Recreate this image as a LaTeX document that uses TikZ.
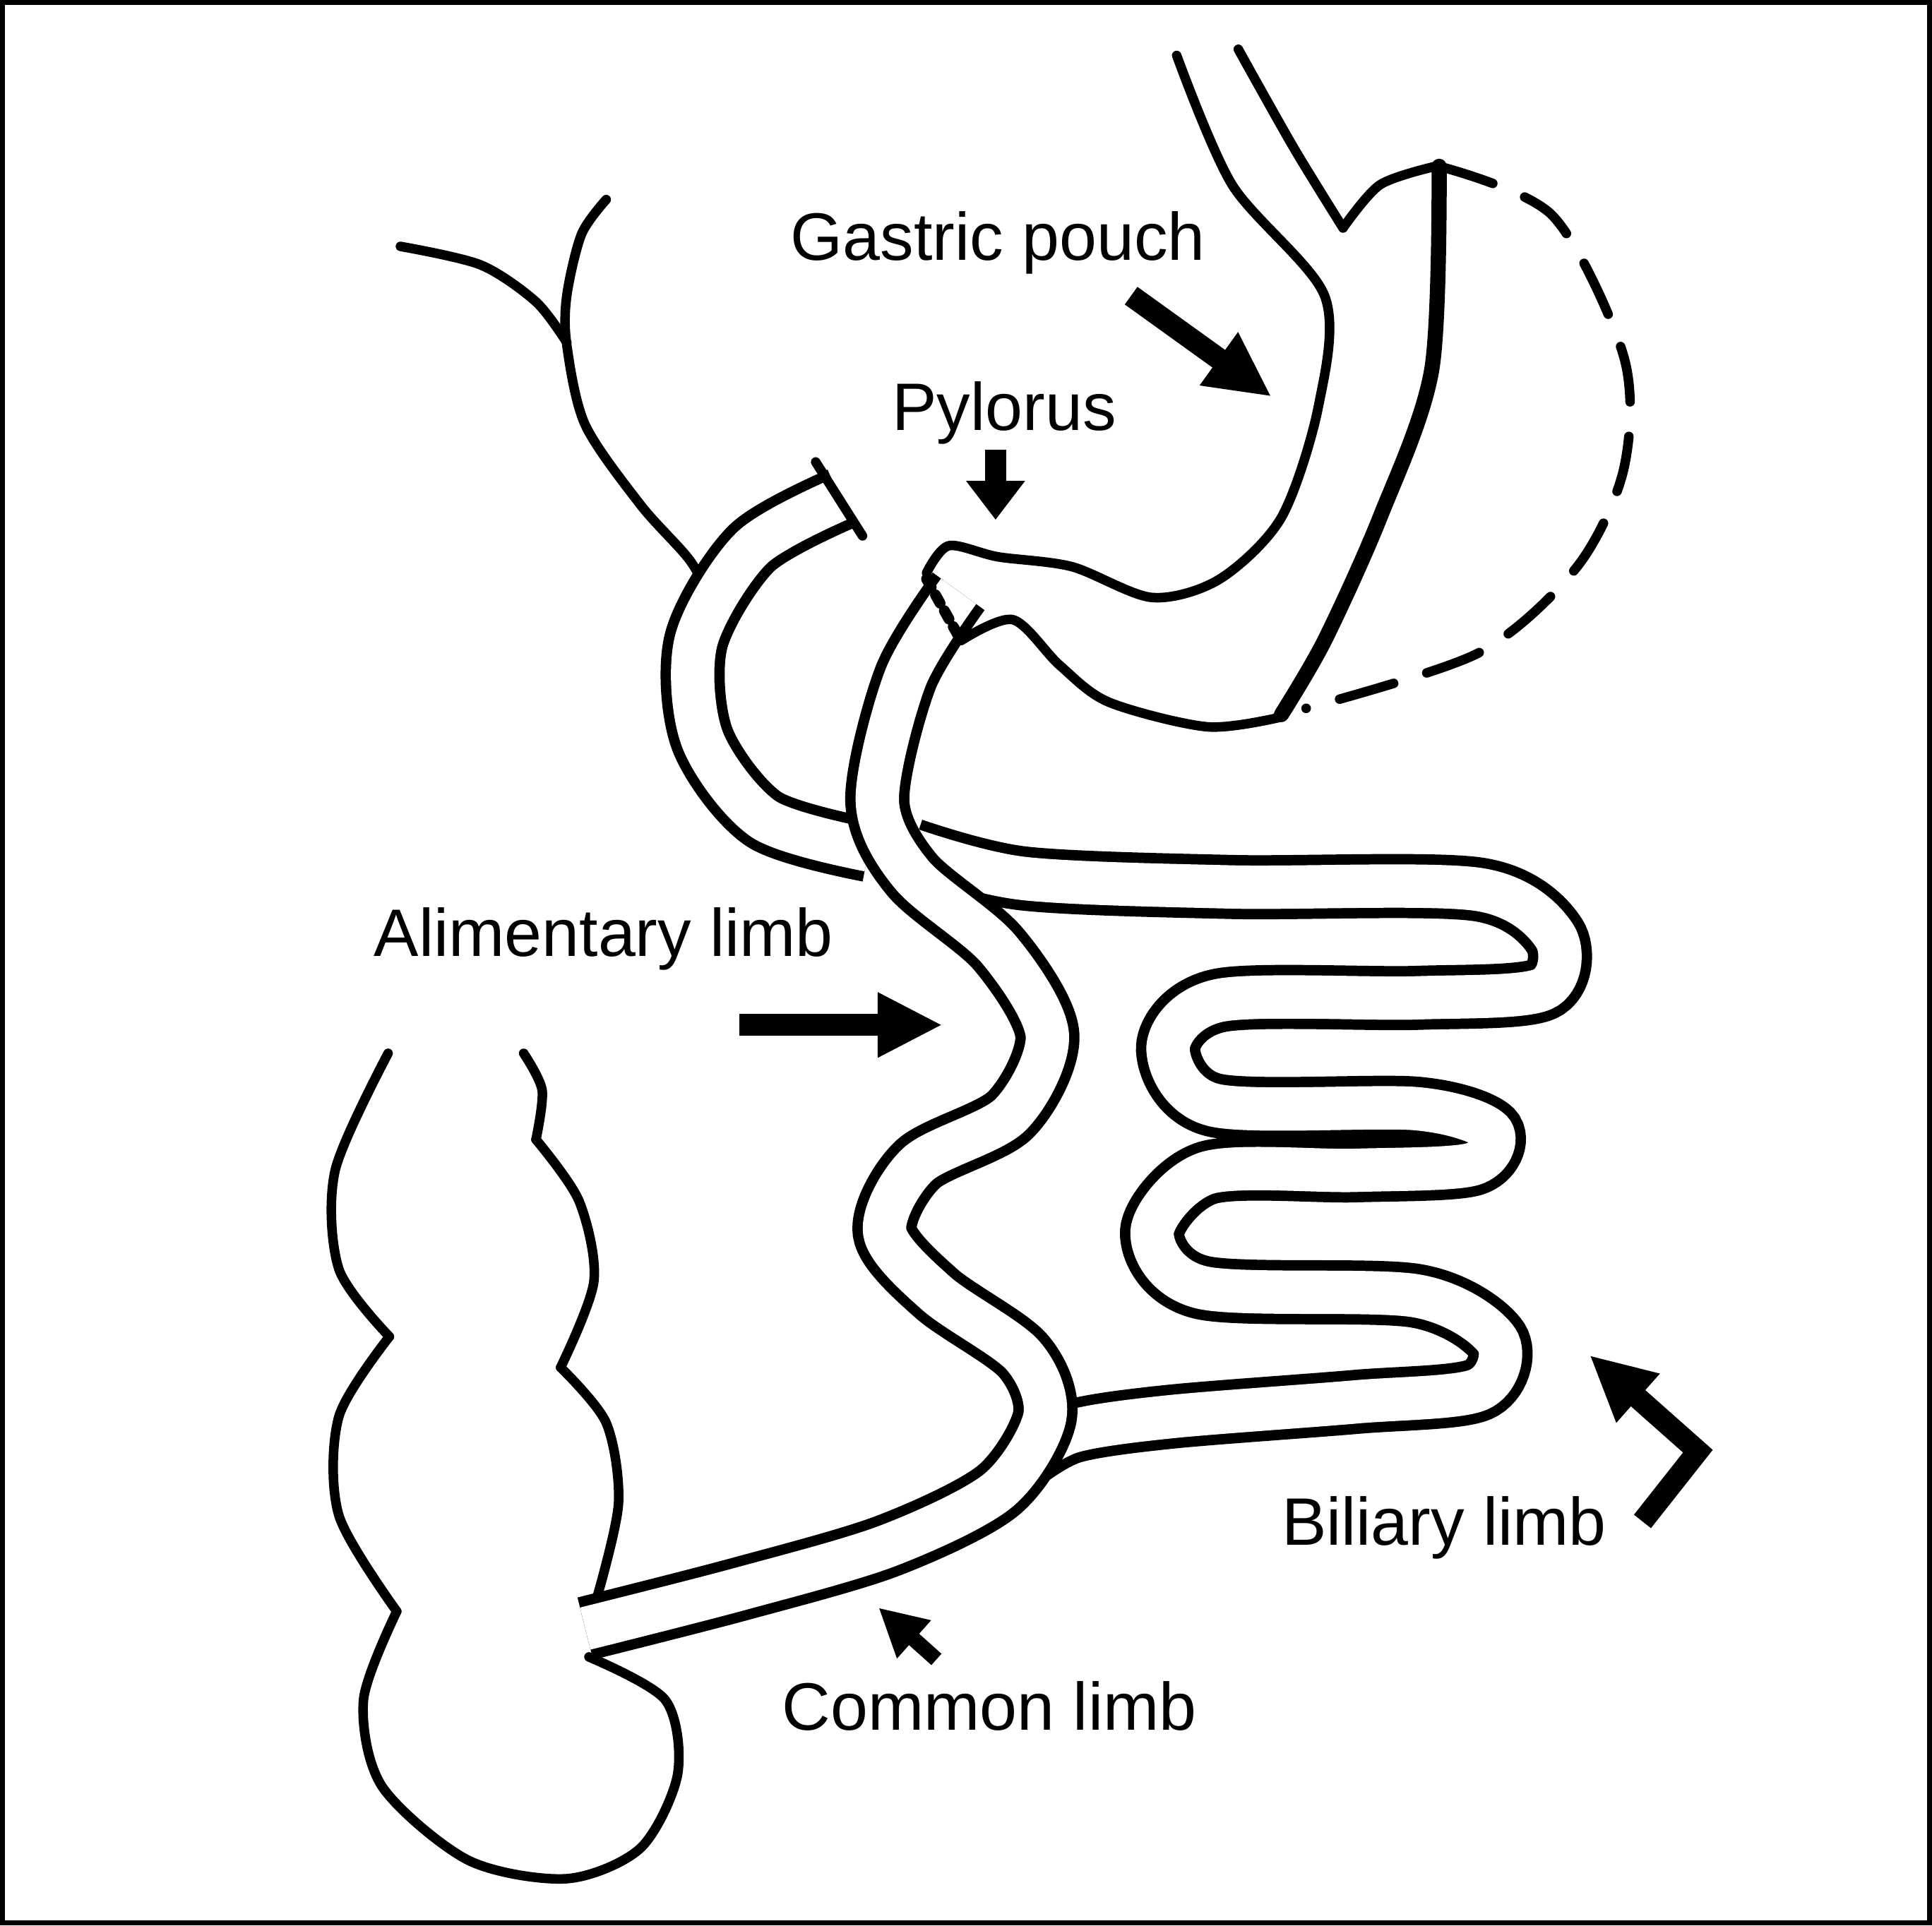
\documentclass[tikz,border=0pt]{standalone}
\usepackage{fontspec}
\setmainfont{Liberation Sans}
\usetikzlibrary{arrows.meta}
\begin{document}
\begin{tikzpicture}[x=0.01cm,y=-0.01cm,
  ol/.style={line width=2.2pt,line cap=round,line join=round},
  tube/.style={line width=2.4pt,draw=black,double=white,double distance=10pt},
  lbl/.style={font=\fontsize{15.5}{18}\selectfont},
  blk/.style={line width=5pt,-{Triangle[length=15pt,width=14pt]}}]
\useasboundingbox (0,0) rectangle (1568,1563);
\draw[line width=1.2pt] (2,2) rectangle (1566,1561);
% liver
\draw[ol] plot[smooth] coordinates {(325,200) (390,215) (435,245) (460,278)};
\draw[ol] plot[smooth] coordinates {(492,162) (472,190) (460,240) (460,280) (475,345) (520,410) (560,455) (580,492)};
% duodenal stump
\draw[tube] plot[smooth] coordinates {(682,405) (610,445) (565,520) (570,600) (620,665) (705,690)};
\draw[ol] (662,375) -- (700,435);
% stomach pouch
\draw[ol] plot[smooth] coordinates {(955,45) (1000,150) (1075,240) (1070,330) (1040,420) (990,470) (935,485) (870,460) (810,452) (770,443) (752,465)};
\draw[ol] plot[smooth] coordinates {(1005,40) (1050,120) (1090,185)};
\draw[ol] plot[smooth] coordinates {(1090,185) (1120,150) (1165,135)};
\draw[line width=3.5pt,line cap=round] plot[smooth] coordinates {(1168,135) (1162,300) (1120,420) (1075,520) (1040,580)};
\draw[ol] plot[smooth] coordinates {(1040,582) (980,590) (900,570) (860,540) (822,503) (780,520)};
\draw[ol,dash pattern=on 13pt off 8pt] plot[smooth] coordinates {(1168,135) (1260,175) (1318,290) (1318,380) (1280,460) (1200,530) (1060,575)};
% biliary limb
\draw[tube] plot[smooth] coordinates {(740,690) (830,713) (1000,720) (1200,722) (1262,760) (1252,803) (1150,810) (990,812) (948,850) (985,897) (1150,900) (1210,918) (1195,945) (1100,950) (980,952) (935,1000) (975,1045) (1150,1052) (1215,1088) (1200,1128) (1100,1138) (950,1150) (870,1162) (830,1185)};
% alimentary / common limb
\draw[tube] plot[smooth] coordinates {(778,480) (735,550) (712,650) (740,710) (810,770) (850,840) (820,905) (745,945) (718,1000) (760,1050) (830,1100) (848,1150) (810,1210) (720,1255) (600,1290) (475,1322)};
\draw[ol,dotted,line width=2.5pt] (752,470) -- (780,520);
% colon
\draw[ol] plot[smooth] coordinates {(315,855) (272,950) (275,1030) (316,1085)};
\draw[ol] plot[smooth] coordinates {(316,1085) (275,1150) (275,1230) (322,1308)};
\draw[ol] plot[smooth] coordinates {(322,1308) (295,1380) (310,1450) (380,1510) (460,1525) (520,1500) (550,1440) (540,1380) (478,1345)};
\draw[ol] plot[smooth] coordinates {(425,855) (440,885) (435,925)};
\draw[ol] plot[smooth] coordinates {(435,925) (470,975) (482,1040) (455,1110)};
\draw[ol] plot[smooth] coordinates {(455,1110) (492,1155) (502,1220) (485,1295)};
% labels
\node[lbl] (gp) at (810,197) {Gastric pouch};
\node[lbl] (py) at (815,335) {Pylorus};
\node[lbl] (al) at (490,762) {Alimentary limb};
\node[lbl] (bl) at (1172,1240) {Biliary limb};
\node[lbl] (cl) at (803,1385) {Common limb};
% arrows
\coordinate (a1) at (918,240); \coordinate (a2) at (1032,322);
\draw[blk] (a1) -- (a2);
\coordinate (p1) at (808,365); \coordinate (p2) at (808,422);
\draw[line width=5pt,-{Triangle[length=9pt,width=13pt]}] (p1) -- (p2);
\coordinate (m1) at (600,832); \coordinate (m2) at (765,832);
\draw[blk] (m1) -- (m2);
\coordinate (b1) at (1333,1235); \coordinate (b2) at (1378,1178); \coordinate (b3) at (1290,1100);
\draw[blk,line join=miter] (b1) -- (b2) -- (b3);
\coordinate (c1) at (760,1347); \coordinate (c2) at (713,1305);
\draw[line width=3.5pt,-{Triangle[length=11pt,width=11pt]}] (c1) -- (c2);
\end{tikzpicture}
\end{document}
